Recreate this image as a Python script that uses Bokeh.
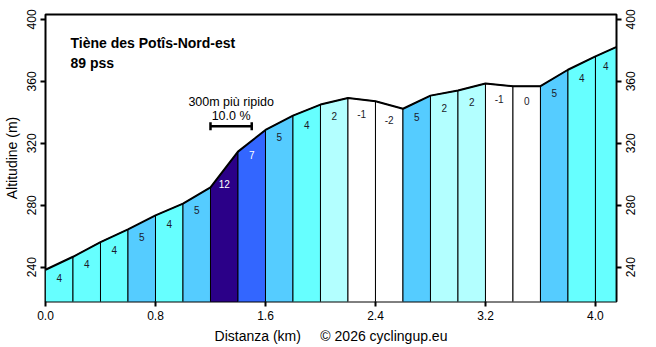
import math
from bokeh.plotting import figure
from bokeh.models import (Range1d, FixedTicker, LinearAxis, NumeralTickFormatter,
                          ColumnDataSource, Label)
from bokeh.core.properties import value
from bokeh.embed import file_html
from bokeh.resources import INLINE

# ---- data ----
distanza_km = [0.0, 0.2, 0.4, 0.6, 0.8, 1.0, 1.2, 1.4, 1.6, 1.8, 2.0,
               2.2, 2.4, 2.6, 2.8, 3.0, 3.2, 3.4, 3.6, 3.8, 4.0, 4.15]
altitudine_m = [238.3, 246.7, 256.2, 264.4, 273.4, 281.0, 291.5, 314.6, 328.6, 337.9, 345.0,
                349.3, 347.2, 342.3, 350.8, 354.1, 358.6, 356.9, 356.9, 367.5, 376.1, 382.1]
pendenza = [4, 4, 4, 5, 4, 5, 12, 7, 5, 4, 2, -1, -2, 5, 2, 2, -1, 0, 5, 4, 4]
x_ticks = [0.0, 0.8, 1.6, 2.4, 3.2, 4.0]
y_ticks = [240, 280, 320, 360, 400]
titolo = "Tiène des Potîs-Nord-est"
sottotitolo = "89 pss"
ripido_start_km = 1.2
ripido_len_km = 0.3
ripido_testo = "300m più ripido"
ripido_pct = "10.0 %"

FONT = "Liberation Sans"

def colore(g):
    if g <= 0:
        return "#FFFFFF"
    if g <= 3:
        return "#B3FFFF"
    if g <= 4:
        return "#66FFFF"
    if g <= 6:
        return "#55CCFF"
    if g <= 9:
        return "#3366FF"
    return "#2B0088"

x0, x1 = 0.0, 4.153
y0, y1 = 217.8, 403.2

p = figure(width=656, height=347, x_range=Range1d(x0, x1), y_range=Range1d(y0, y1),
           output_backend="svg", toolbar_location=None,
           min_border_left=45, min_border_right=40, min_border_top=14, min_border_bottom=46)
p.grid.visible = False
p.outline_line_color = "black"
p.outline_line_width = 2
p.background_fill_color = "white"
p.border_fill_color = "white"

# segments
xs, ys, cols, lx, ly, lt, lc = [], [], [], [], [], [], []
base = y0 - 10
for i, g in enumerate(pendenza):
    a, b = distanza_km[i], distanza_km[i + 1]
    ea, eb = altitudine_m[i], altitudine_m[i + 1]
    xs.append([a, a, b, b])
    ys.append([base, ea, eb, base])
    cols.append(colore(g))
    lx.append((a + b) / 2)
    ly.append((ea + eb) / 2 - 9.4)
    lt.append(str(g))
    lc.append("#FFFFFF" if g >= 7 else "#1a1a2a")

p.patches(xs=xs, ys=ys, fill_color=cols, line_color="black", line_width=1)
p.line(distanza_km, altitudine_m, line_color="black", line_width=2)

src = ColumnDataSource(dict(x=lx, y=ly, t=lt, c=lc))
p.text(x="x", y="y", text="t", text_color="c", source=src,
       text_font=value(FONT), text_font_size=value("10px"),
       text_align="center", text_baseline="middle")

# steepest bracket
yb = 331
p.segment(x0=[ripido_start_km], y0=[yb], x1=[ripido_start_km + ripido_len_km], y1=[yb],
          line_color="black", line_width=2.5)
p.segment(x0=[ripido_start_km, ripido_start_km + ripido_len_km], y0=[yb - 2.6, yb - 2.6],
          x1=[ripido_start_km, ripido_start_km + ripido_len_km], y1=[yb + 2.6, yb + 2.6],
          line_color="black", line_width=2.5)
cx = ripido_start_km + ripido_len_km / 2
p.add_layout(Label(x=cx, y=346.5, text=ripido_testo, text_align="center",
                   text_baseline="alphabetic", text_font=FONT, text_font_size="12.5px",
                   text_color="black"))
p.add_layout(Label(x=cx, y=337.5, text=ripido_pct, text_align="center",
                   text_baseline="alphabetic", text_font=FONT, text_font_size="12.5px",
                   text_color="black"))

# title
p.add_layout(Label(x=0.182, y=384.7, text=titolo, text_align="left",
                   text_baseline="alphabetic", text_font=FONT, text_font_size="14px",
                   text_font_style="bold", text_color="black"))
p.add_layout(Label(x=0.182, y=371.7, text=sottotitolo, text_align="left",
                   text_baseline="alphabetic", text_font=FONT, text_font_size="14px",
                   text_font_style="bold", text_color="black"))

# axes
right_ticks = LinearAxis()
p.add_layout(right_ticks, "right")
right_labels = LinearAxis()
p.add_layout(right_labels, "right")

for ax in [p.xaxis[0], p.yaxis[0], right_ticks, right_labels]:
    ax.axis_line_color = None
    ax.major_tick_line_color = "black"
    ax.major_tick_line_width = 2
    ax.major_tick_out = 5
    ax.major_tick_in = 0
    ax.minor_tick_line_color = None
    ax.major_label_text_font = FONT
    ax.major_label_text_font_size = "12px"
    ax.major_label_text_color = "black"
    ax.major_label_standoff = 4
    ax.axis_label_text_font = FONT
    ax.axis_label_text_font_size = "14px"
    ax.axis_label_text_font_style = "normal"
    ax.axis_label_text_color = "black"
    ax.axis_label_standoff = 5

p.xaxis[0].ticker = FixedTicker(ticks=x_ticks)
p.xaxis[0].formatter = NumeralTickFormatter(format="0.0")
p.xaxis[0].axis_label = "Distanza (km)\u00a0\u00a0\u00a0\u00a0\u00a0© 2026 cyclingup.eu"
p.yaxis[0].ticker = FixedTicker(ticks=y_ticks)
p.yaxis[0].axis_label = "Altitudine (m)"
p.yaxis[0].major_label_orientation = "parallel"

# right side: one axis draws the ticks, a second one draws labels reading bottom-to-top
right_ticks.ticker = FixedTicker(ticks=y_ticks)
right_ticks.major_label_overrides = {t: "" for t in y_ticks}
right_ticks.major_label_standoff = 0

half_label_px = 10.0
shift = half_label_px * (y1 - y0) / 287.0
shifted = [t - shift for t in y_ticks]
right_labels.ticker = FixedTicker(ticks=shifted)
right_labels.major_label_overrides = {s: str(t) for s, t in zip(shifted, y_ticks)}
right_labels.major_tick_line_color = None
right_labels.major_tick_out = 0
right_labels.major_label_standoff = 9
right_labels.major_label_orientation = math.pi / 2

open("out.html", "w").write(file_html(p, INLINE))
